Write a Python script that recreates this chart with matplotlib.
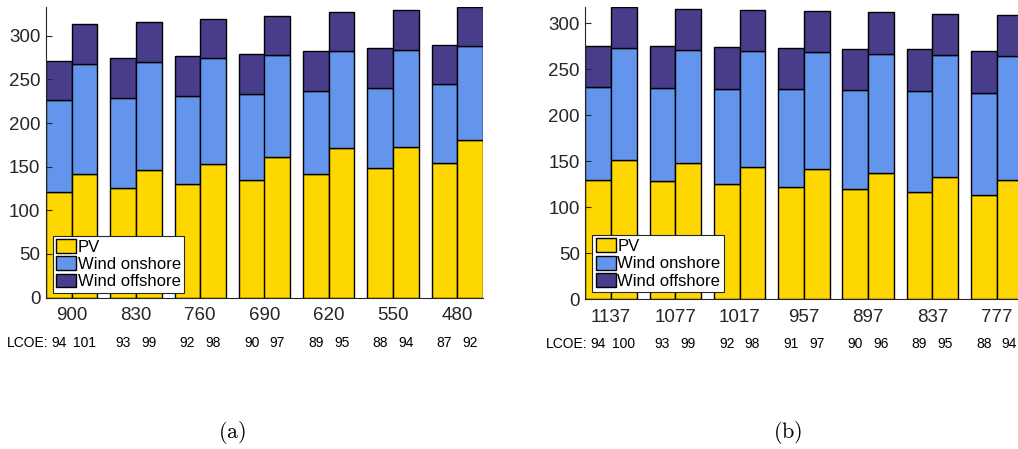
import matplotlib
matplotlib.use('Agg')
import matplotlib.pyplot as plt
import numpy as np

plt.rcParams['font.family'] = ['Liberation Sans', 'DejaVu Sans']
plt.rcParams['mathtext.fontset'] = 'cm'

# panel (a)
labelsA = ['900', '830', '760', '690', '620', '550', '480']
lcoeA1 = [94, 93, 92, 90, 89, 88, 87]
lcoeA2 = [101, 99, 98, 97, 95, 94, 92]
pvA1 = [121.5, 126, 130, 135, 141, 148, 154]
onA1 = [105, 103, 101, 98.5, 96, 92.5, 90.5]
offA1 = [45, 45.5, 46, 45.5, 45.5, 45, 45]
pvA2 = [141, 146, 153.5, 161.5, 171, 173, 180]
onA2 = [127, 124.5, 121, 116, 111, 110.5, 108]
offA2 = [45, 45.5, 45, 45.5, 45.5, 45.5, 45]

# panel (b)
labelsB = ['1137', '1077', '1017', '957', '897', '837', '777']
lcoeB1 = [94, 93, 92, 91, 90, 89, 88]
lcoeB2 = [100, 99, 98, 97, 96, 95, 94]
pvB1 = [130, 128, 125, 122, 119.5, 116.5, 113.5]
onB1 = [100.5, 102, 104, 106.5, 108, 110, 111]
offB1 = [45, 45, 45, 44.5, 44.5, 45, 45.5]
pvB2 = [151.5, 147.5, 143.5, 141.5, 137, 133, 129.5]
onB2 = [121.5, 123.5, 126, 127, 130, 132.5, 135]
offB2 = [45, 45, 45, 45, 45.5, 45, 45]

colors = ['#FFD700', '#6495ED', '#483D8B']
names = ['PV', 'Wind onshore', 'Wind offshore']
txtcol = '#262626'
W = 0.4


def panel(fig, rect, labels, lc1, lc2, b1, b2, leganchor):
    ax = fig.add_axes(rect)
    x = np.arange(1, len(labels) + 1)
    handles = []
    for xs, comps in [(x - W / 2, b1), (x + W / 2, b2)]:
        bottom = np.zeros(len(x))
        for i, vals in enumerate(comps):
            h = ax.bar(xs, vals, W, bottom=bottom, color=colors[i],
                       edgecolor='black', linewidth=1.0, label=names[i])
            bottom = bottom + np.array(vals)
            if xs is not None and len(handles) < 3:
                handles.append(h)
    top = max(np.sum(b1, axis=0).max(), np.sum(b2, axis=0).max())
    ax.set_xlim(0.6, len(labels) + 0.4)
    ax.set_ylim(0, top)
    ax.set_yticks(np.arange(0, 301, 50))
    ax.set_xticks(x)
    ax.set_xticklabels(labels)
    for s in ['top', 'right']:
        ax.spines[s].set_visible(False)
    for s in ['left', 'bottom']:
        ax.spines[s].set_color(txtcol)
        ax.spines[s].set_linewidth(0.8)
    ax.tick_params(axis='y', direction='in', length=4, pad=4, labelsize=13.5,
                   colors=txtcol)
    ax.tick_params(axis='x', length=0, pad=7, labelsize=13.5, colors=txtcol)
    ax.set_axisbelow(False)

    tr = ax.get_xaxis_transform()
    ax.text(x[0] - W / 2 - 0.16, -0.155, 'LCOE:', transform=tr, ha='right',
            va='center', fontsize=10, color='black')
    for i in range(len(x)):
        ax.text(x[i] - W / 2, -0.155, str(lc1[i]), transform=tr, ha='center',
                va='center', fontsize=10, color='black')
        ax.text(x[i] + W / 2, -0.155, str(lc2[i]), transform=tr, ha='center',
                va='center', fontsize=10, color='black')

    leg = ax.legend(handles=handles, labels=names, loc='lower left',
                    bbox_to_anchor=leganchor, borderaxespad=0, fontsize=12,
                    fancybox=False, framealpha=1, edgecolor=txtcol,
                    handlelength=1.2, handleheight=0.9, handletextpad=0.1,
                    labelspacing=0.1, borderpad=0.2)
    leg.get_frame().set_linewidth(0.8)
    return ax


fig = plt.figure(figsize=(10.18, 4.49), dpi=100)

axA = panel(fig, [46 / 1018, 1 - 297.5 / 449, 437 / 1018, 290.5 / 449],
            labelsA, lcoeA1, lcoeA2, [pvA1, onA1, offA1], [pvA2, onA2, offA2],
            (7 / 437, 5 / 290.5))
axB = panel(fig, [585.3 / 1018, 1 - 299 / 449, 437 / 1018, 292.3 / 449],
            labelsB, lcoeB1, lcoeB2, [pvB1, onB1, offB1], [pvB2, onB2, offB2],
            (7 / 437, 7 / 292.3))

fig.text(232 / 1018, 1 - 432 / 449, r'$\mathrm{(a)}$', ha='center', va='center',
         fontsize=16)
fig.text(788 / 1018, 1 - 432 / 449, r'$\mathrm{(b)}$', ha='center', va='center',
         fontsize=16)

fig.savefig('out.png', dpi=100)
